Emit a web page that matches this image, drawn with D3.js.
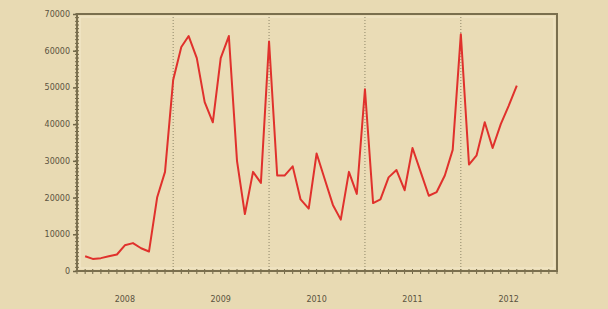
<!DOCTYPE html>
<html>
<head>
<meta charset="utf-8">
<script src="https://cdn.jsdelivr.net/npm/d3@7"></script>
<style>
  body { margin: 0; background: #e8dab3; }
  svg { display: block; }
  text { font-family: "DejaVu Sans", sans-serif; }
</style>
</head>
<body>
<div id="vis"></div>
<script>
// monthly values, first point is Feb 2008
var startMonth = 1;
var values = [4000, 3300, 3500, 4000, 4500, 7000, 7600, 6200, 5300, 20000, 27000,
  52000, 61000, 64000, 58000, 46000, 40500, 58000, 64000, 30000, 15500, 27000, 24000,
  62500, 26000, 26000, 28500, 19500, 17000, 32000, 25000, 18000, 14000, 27000, 21000,
  49500, 18500, 19500, 25500, 27500, 22000, 33500, 27000, 20500, 21500, 26000, 33000,
  64500, 29000, 31500, 40500, 33500, 40000, 45000, 50500];
var years = [2008, 2009, 2010, 2011, 2012];
var yTicks = [0, 10000, 20000, 30000, 40000, 50000, 60000, 70000];

var W = 608, H = 309;
var mLeft = 77, mRight = 557, mTop = 14, mBottom = 271;

var svg = d3.select('#vis').append('svg').attr('width', W).attr('height', H);

var x = d3.scaleTime()
  .domain([new Date(2008, 0, 1), new Date(2013, 0, 1)])
  .range([mLeft, mRight]);
var y = d3.scaleLinear().domain([0, 70000]).range([mBottom, mTop]);

var pts = values.map(function(v, i) { return {date: new Date(2008, startMonth + i, 1), value: v}; });

// plot area
svg.append('rect')
  .attr('x', mLeft).attr('y', mTop)
  .attr('width', mRight - mLeft).attr('height', mBottom - mTop)
  .attr('fill', '#eadcb6');

// light inner edge
svg.append('rect')
  .attr('x', mLeft + 3).attr('y', mTop + 3)
  .attr('width', mRight - mLeft - 6).attr('height', mBottom - mTop - 6)
  .attr('fill', 'none').attr('stroke', '#f3e9cb').attr('stroke-width', 1);

// year dividers
svg.selectAll('line.year')
  .data(years.slice(1)).enter().append('line')
  .attr('class', 'year')
  .attr('x1', function(d) { return x(new Date(d, 0, 1)); })
  .attr('x2', function(d) { return x(new Date(d, 0, 1)); })
  .attr('y1', mTop).attr('y2', mBottom)
  .attr('stroke', '#8e8668').attr('stroke-width', 1)
  .attr('stroke-dasharray', '1,2');

// line
var line = d3.line()
  .x(function(d) { return x(d.date); })
  .y(function(d) { return y(d.value); });

svg.append('path')
  .datum(pts)
  .attr('d', line)
  .attr('fill', 'none')
  .attr('stroke', '#e0312c')
  .attr('stroke-width', 2)
  .attr('stroke-linejoin', 'round');

// y axis: minor ticks every 1000, labels every 10000
var yAxis = d3.axisLeft(y).tickValues(yTicks).tickSize(4).tickPadding(3)
  .tickFormat(d3.format('d'));
var gy = svg.append('g').attr('transform', 'translate(' + mLeft + ',0)').call(yAxis);
gy.select('.domain').remove();
gy.selectAll('.tick line').attr('stroke', '#6f6547').attr('stroke-width', 1.5);
gy.selectAll('.tick text').attr('fill', '#5a5340').attr('font-size', 8);

svg.append('g').selectAll('line')
  .data(d3.range(0, 70001, 1000)).enter().append('line')
  .attr('x1', mLeft - 2).attr('x2', mLeft + 2)
  .attr('y1', function(d) { return y(d); }).attr('y2', function(d) { return y(d); })
  .attr('stroke', '#6f6547').attr('stroke-width', 1);

// x axis: month ticks, year labels centred
var months = d3.timeMonth.range(new Date(2008, 0, 1), new Date(2013, 0, 2));
svg.append('g').selectAll('line')
  .data(months).enter().append('line')
  .attr('x1', function(d) { return x(d); }).attr('x2', function(d) { return x(d); })
  .attr('y1', mBottom - 2).attr('y2', mBottom + 3)
  .attr('stroke', '#6f6547').attr('stroke-width', 1);

svg.append('g').selectAll('text')
  .data(years).enter().append('text')
  .attr('x', function(d) { return x(new Date(d, 6, 1)); })
  .attr('y', 302)
  .attr('text-anchor', 'middle')
  .attr('font-size', 8)
  .attr('fill', '#5a5340')
  .text(function(d) { return d; });

// frame
svg.append('rect')
  .attr('x', mLeft).attr('y', mTop)
  .attr('width', mRight - mLeft).attr('height', mBottom - mTop)
  .attr('fill', 'none').attr('stroke', '#7a6f4e').attr('stroke-width', 2);
</script>
</body>
</html>
